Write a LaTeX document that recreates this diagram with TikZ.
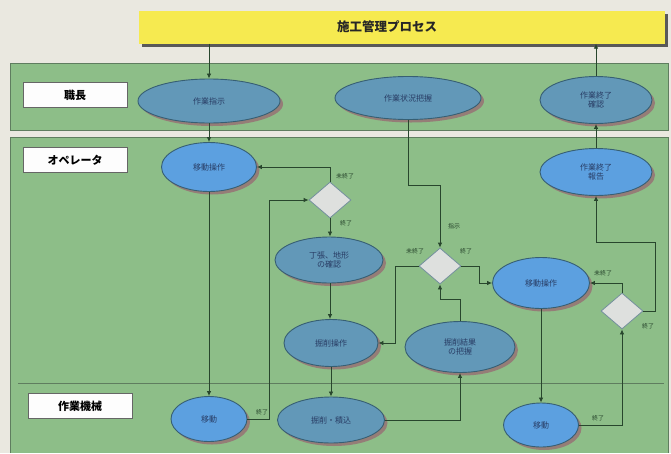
\documentclass[tikz,border=0pt]{standalone}
\usepackage{fontspec}
\newfontfamily\jp{Noto Sans CJK JP}
\usetikzlibrary{shapes.geometric,arrows.meta,shadows}
\definecolor{bgc}{RGB}{234,232,224}
\definecolor{lanec}{RGB}{141,190,136}
\definecolor{lanedge}{RGB}{95,125,95}
\definecolor{titlec}{RGB}{246,234,80}
\definecolor{tealc}{RGB}{98,152,184}
\definecolor{bluec}{RGB}{92,160,224}
\definecolor{ellline}{RGB}{55,95,115}
\definecolor{shadc}{RGB}{150,118,118}
\definecolor{txtc}{RGB}{40,60,100}
\definecolor{linec}{RGB}{40,70,45}
\definecolor{diac}{RGB}{222,224,222}
\tikzset{
  ellbase/.style={ellipse, draw=ellline, line width=0.9pt, inner sep=0pt,
    text=txtc, font=\jp\fontsize{8}{9.5}\selectfont, align=center,
    drop shadow={shadow xshift=3pt, shadow yshift=-3pt, fill=shadc, opacity=0.9}},
  tealell/.style={ellbase, fill=tealc},
  blueell/.style={ellbase, fill=bluec},
  decis/.style={diamond, draw=ellline!70, line width=0.8pt, fill=diac, inner sep=0pt,
    minimum width=42pt, minimum height=36pt},
  lanelabel/.style={rectangle, draw=gray!80!black, line width=0.9pt, fill=white!92!bgc,
    minimum width=104pt, minimum height=25pt, font=\jp\bfseries\fontsize{11}{12}\selectfont},
  conn/.style={draw=linec, line width=0.8pt, -{Latex[length=5pt,width=4.5pt]}},
  smalllab/.style={font=\jp\fontsize{6}{7}\selectfont, text=linec, inner sep=0pt}
}
\begin{document}
\begin{tikzpicture}[x=1pt,y=-1pt]
\useasboundingbox (0,0) rectangle (671,453);
\fill[bgc] (0,0) rectangle (671,453);
% lanes
\fill[lanec] (10,63) rectangle (668,130);
\fill[lanec] (10,137) rectangle (668,453);
\draw[lanedge, line width=0.8pt] (10,63) rectangle (668,130);
\draw[lanedge, line width=0.8pt] (10,453) -- (10,137) -- (668,137) -- (668,453);
\draw[lanedge, line width=1pt] (18,383) -- (664,383);
% title
\node[rectangle, fill=titlec, minimum width=526pt, minimum height=33pt, inner sep=0pt,
  drop shadow={shadow xshift=3pt, shadow yshift=-3pt, fill=gray!70!black, opacity=1}]
  (title) at (402,27) {};
\node[font=\jp\bfseries\fontsize{12.5}{14}\selectfont, text=black!85] (titletext) at (387,27) {施工管理プロセス};
% lane labels
\node[lanelabel] (lab1) at (75,95) {職長};
\node[lanelabel] (lab2) at (75,160) {オペレータ};
\node[lanelabel] (lab3) at (80,406) {作業機械};
% ellipses
\node[tealell, minimum width=142pt, minimum height=44pt] (shiji) at (209,101) {作業指示};
\node[tealell, minimum width=146pt, minimum height=43pt] (jokyo) at (408,98) {作業状況把握};
\node[tealell, minimum width=112pt, minimum height=47pt] (kak) at (596,100) {作業終了\\確認};
\node[blueell, minimum width=95pt, minimum height=49pt] (op1) at (209,167) {移動操作};
\node[blueell, minimum width=112pt, minimum height=47pt] (hok) at (596,172) {作業終了\\報告};
\node[tealell, minimum width=108pt, minimum height=46pt] (chk) at (329,260) {丁張、地形\\の確認};
\node[tealell, minimum width=94pt, minimum height=47pt] (kop) at (331,343) {掘削操作};
\node[tealell, minimum width=110pt, minimum height=51pt] (kres) at (460,347) {掘削結果\\の把握};
\node[blueell, minimum width=97pt, minimum height=51pt] (op2) at (541,283) {移動操作};
\node[blueell, minimum width=76pt, minimum height=45pt] (m1) at (209,419) {移動};
\node[tealell, minimum width=107pt, minimum height=46pt] (kse) at (331,420) {掘削・積込};
\node[blueell, minimum width=75pt, minimum height=44pt] (m2) at (541,425) {移動};
% decisions
\node[decis] (d1) at (330,200) {};
\node[decis] (d2) at (440,266) {};
\node[decis] (d3) at (622,311) {};
% connectors
\draw[conn] (title.south -| shiji.north) -- (shiji.north);
\draw[conn] (shiji.south) -- (op1.north);
\draw[conn] (op1.south) -- (m1.north);
\draw[conn] (m1.east) -- ++(22,0) |- (d1.west);
\draw[conn] (d1.north) |- (op1.east);
\draw[conn] (d1.south) -- (d1.south |- chk.north);
\draw[conn] (d1.south |- chk.south) -- (d1.south |- kop.north);
\draw[conn] (kop.south) -- (kse.north);
\draw[conn] (kse.east) -| (kres.south);
\draw[conn] (kres.north) -- ++(0,-22) -| (d2.south);
\draw[conn] (d2.west) -- ++(-23,0) |- (kop.east);
\draw[conn] (jokyo.south) -- ++(0,65) -| (d2.north);
\draw[conn] (d2.east) -- ++(18,0) |- (op2.west);
\draw[conn] (op2.south) -- (m2.north);
\draw[conn] (m2.east) -| (d3.south);
\draw[conn] (d3.north) |- (op2.east);
\coordinate (c17) at (655,242);
\draw[conn] (d3.east) -| (c17) -| (hok.south);
\draw[conn] (hok.north) -- (kak.south);
\draw[conn] (kak.north) -- (title.south -| kak.north);
% small labels
\node[smalllab] (l1) at (345,176) {未終了};
\node[smalllab] (l2) at (346,223) {終了};
\node[smalllab] (l3) at (262,412) {終了};
\node[smalllab] (l4) at (454,226) {指示};
\node[smalllab] (l5) at (415,251) {未終了};
\node[smalllab] (l6) at (466,251) {終了};
\node[smalllab] (l7) at (603,273) {未終了};
\node[smalllab] (l8) at (648,326) {終了};
\node[smalllab] (l9) at (598,418) {終了};
\end{tikzpicture}
\end{document}
